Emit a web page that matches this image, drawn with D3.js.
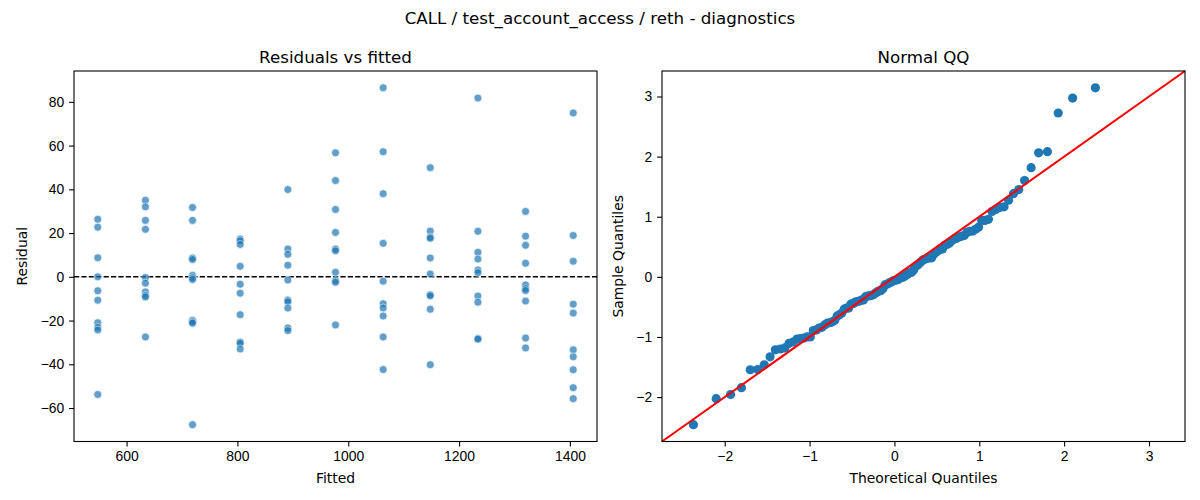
<!DOCTYPE html>
<html>
<head>
<meta charset="utf-8">
<script src="https://cdn.jsdelivr.net/npm/d3@7/dist/d3.min.js"></script>
<style>
    body { margin: 0; background: #fff; }
    svg { display: block; font-family: "DejaVu Sans", sans-serif; }
    .tick text { font-size: 13.9px; fill: #000; }
    .tick line, .domain { stroke: #000; stroke-width: 1.1px; }
</style>
</head>
<body>
<div id="chart"></div>
<script>
(function () {
    'use strict';

    // fitted value of each group (x of each column of points)
    var fitted = [548, 634, 719, 805, 891, 977, 1063, 1148, 1234, 1320, 1406];

    // residuals, one list per fitted value
    var residuals = [
        [26.3, 22.7, 8.7, 0, -6.4, -10.7, -21, -23.1, -24.3, -53.8],
        [35, 32, 25.8, 21.7, -0.3, -2.9, -6.9, -8.5, -9.2, -27.5],
        [31.7, 25.8, 8.6, 7.9, 0.7, -0.4, -1.2, -19.9, -20.6, -21.2, -67.6],
        [17.3, 16.5, 14.8, 4.8, -3.4, -7.5, -17.3, -29.8, -30.4, -33],
        [39.9, 12.7, 10.3, 5.3, -1.5, -10.6, -11.4, -14.3, -23.4, -24.6],
        [56.7, 44, 30.8, 20.3, 12.7, 11.9, 2.1, -1.7, -2.5, -22],
        [86.4, 57.2, 38, 15.3, -2, -12.3, -14.3, -17.9, -27.5, -42.4],
        [49.9, 20.9, 18.2, 17.6, 8.6, 1.3, -8.2, -8.7, -14.8, -40.2],
        [81.7, 20.8, 11.2, 8.1, 3.1, 1.9, -8.8, -11.6, -28.2, -28.5],
        [29.9, 18.6, 14.4, 6.2, -3.7, -5.4, -6.3, -11.1, -28, -32.5],
        [74.9, 18.9, 7.1, -12.5, -16.6, -33.4, -36.6, -42.5, -50.7, -55.7]
    ];

    var fittedTicks = [600, 800, 1000, 1200, 1400],
        residualTicks = [-60, -40, -20, 0, 20, 40, 60, 80],
        qqTicks = [-2, -1, 0, 1, 2, 3];

    var suptitle = "CALL / test_account_access / reth - diagnostics",
        leftTitle = "Residuals vs fitted",
        rightTitle = "Normal QQ";

    var width = 1200,
        height = 500,
        blue = "#1f77b4",
        tickLen = 4.9,
        left = {x0: 74, x1: 597, y0: 71, y1: 441.5},
        right = {x0: 662, x1: 1185, y0: 71, y1: 441.5};

    var svg = d3.select("#chart").append("svg")
        .attr("width", width)
        .attr("height", height);

    // flatten the residual lists into points
    var points = [];
    for (var i = 0; i < fitted.length; i++) {
        for (var j = 0; j < residuals[i].length; j++) {
            points.push({fitted: fitted[i], resid: residuals[i][j]});
        }
    }

    // matplotlib style 5% margins
    function padded(ext) {
        var m = (ext[1] - ext[0]) * 0.05;
        return [ext[0] - m, ext[1] + m];
    }

    // inverse normal cdf (Acklam) for the theoretical quantiles of the QQ plot
    function normInv(p) {
        var a = [-3.969683028665376e+01, 2.209460984245205e+02, -2.759285104469687e+02, 1.383577518672690e+02, -3.066479806614716e+01, 2.506628277459239e+00],
            b = [-5.447609879822406e+01, 1.615858368580409e+02, -1.556989798598866e+02, 6.680131188771972e+01, -1.328068155288572e+01],
            c = [-7.784894002430293e-03, -3.223964580411365e-01, -2.400758277161838e+00, -2.549732539343734e+00, 4.374664141464968e+00, 2.938163982698783e+00],
            d = [7.784695709041462e-03, 3.224671290700398e-01, 2.445134137142996e+00, 3.754408661907416e+00],
            pl = 0.02425, q, r;
        if (p < pl) {
            q = Math.sqrt(-2 * Math.log(p));
            return (((((c[0] * q + c[1]) * q + c[2]) * q + c[3]) * q + c[4]) * q + c[5]) /
                ((((d[0] * q + d[1]) * q + d[2]) * q + d[3]) * q + 1);
        }
        if (p > 1 - pl) {
            q = Math.sqrt(-2 * Math.log(1 - p));
            return -(((((c[0] * q + c[1]) * q + c[2]) * q + c[3]) * q + c[4]) * q + c[5]) /
                ((((d[0] * q + d[1]) * q + d[2]) * q + d[3]) * q + 1);
        }
        q = p - 0.5;
        r = q * q;
        return (((((a[0] * r + a[1]) * r + a[2]) * r + a[3]) * r + a[4]) * r + a[5]) * q /
            (((((b[0] * r + b[1]) * r + b[2]) * r + b[3]) * r + b[4]) * r + 1);
    }

    //suptitle
    svg.append("text")
        .attr("x", width / 2)
        .attr("y", 24)
        .attr("text-anchor", "middle")
        .style("font-size", "16.7px")
        .text(suptitle);

    //---------- residuals vs fitted ----------
    var x = d3.scaleLinear()
        .domain(padded(d3.extent(points, function (d) { return d.fitted; })))
        .range([left.x0, left.x1]);
    var y = d3.scaleLinear()
        .domain(padded(d3.extent(points, function (d) { return d.resid; })))
        .range([left.y1, left.y0]);

    var g1 = svg.append("g");

    g1.append("line")
        .attr("x1", left.x0)
        .attr("x2", left.x1)
        .attr("y1", y(0))
        .attr("y2", y(0))
        .attr("stroke", "#000")
        .attr("stroke-width", 1.4)
        .attr("stroke-dasharray", "5.2,2.2");

    g1.append("g")
        .selectAll("circle")
        .data(points)
        .enter()
        .append("circle")
        .attr("cx", function (d) { return x(d.fitted); })
        .attr("cy", function (d) { return y(d.resid); })
        .attr("r", 4)
        .attr("fill", blue)
        .attr("stroke", "#fff")
        .attr("stroke-width", 0.7)
        .attr("opacity", 0.7);

    drawFrame(g1, left, x, y, fittedTicks, residualTicks, d3.format("d"), d3.format("d"));
    addLabels(g1, left, leftTitle, "Fitted", "Residual", 22);

    //---------- normal QQ ----------
    var std = d3.deviation(points, function (d) { return d.resid; }),
        mean = d3.mean(points, function (d) { return d.resid; }),
        sample = points.map(function (d) { return (d.resid - mean) / std; }).sort(d3.ascending),
        n = sample.length,
        qq = sample.map(function (s, k) {
            return {theo: normInv((k + 1) / (n + 1)), sample: s};
        });

    // both axes share the limits, as the 45 degree line needs
    var xl = padded(d3.extent(qq, function (d) { return d.theo; })),
        yl = padded(d3.extent(qq, function (d) { return d.sample; })),
        lim = [Math.min(xl[0], yl[0]), Math.max(xl[1], yl[1])];

    var qx = d3.scaleLinear().domain(lim).range([right.x0, right.x1]);
    var qy = d3.scaleLinear().domain(lim).range([right.y1, right.y0]);

    var g2 = svg.append("g");

    g2.append("g")
        .selectAll("circle")
        .data(qq)
        .enter()
        .append("circle")
        .attr("cx", function (d) { return qx(d.theo); })
        .attr("cy", function (d) { return qy(d.sample); })
        .attr("r", 4.6)
        .attr("fill", blue);

    g2.append("line")
        .attr("x1", qx(lim[0]))
        .attr("y1", qy(lim[0]))
        .attr("x2", qx(lim[1]))
        .attr("y2", qy(lim[1]))
        .attr("stroke", "red")
        .attr("stroke-width", 2.1);

    drawFrame(g2, right, qx, qy, qqTicks, qqTicks, d3.format("d"), d3.format("d"));
    addLabels(g2, right, rightTitle, "Theoretical Quantiles", "Sample Quantiles", 618);

    function drawFrame(g, box, sx, sy, xt, yt, fx, fy) {
        var minus = function (f) {
            return function (v) { return f(v).replace("-", "\u2212"); };
        };
        g.append("g")
            .attr("transform", "translate(0," + box.y1 + ")")
            .call(d3.axisBottom(sx).tickValues(xt).tickFormat(minus(fx)).tickSize(tickLen).tickPadding(4.9).tickSizeOuter(0))
            .call(function (s) { s.select(".domain").remove(); });
        g.append("g")
            .attr("transform", "translate(" + box.x0 + ",0)")
            .call(d3.axisLeft(sy).tickValues(yt).tickFormat(minus(fy)).tickSize(tickLen).tickPadding(4.9).tickSizeOuter(0))
            .call(function (s) { s.select(".domain").remove(); });
        g.selectAll(".tick text").attr("font-family", null).attr("font-size", null);
        g.append("rect")
            .attr("x", box.x0)
            .attr("y", box.y0)
            .attr("width", box.x1 - box.x0)
            .attr("height", box.y1 - box.y0)
            .attr("fill", "none")
            .attr("stroke", "#000")
            .attr("stroke-width", 1.1);
    }

    function addLabels(g, box, title, xLabel, yLabel, yLabelX) {
        var cx = (box.x0 + box.x1) / 2,
            cy = (box.y0 + box.y1) / 2;
        g.append("text")
            .attr("x", cx)
            .attr("y", 62.5)
            .attr("text-anchor", "middle")
            .style("font-size", "16.7px")
            .text(title);
        g.append("text")
            .attr("x", cx)
            .attr("y", 482.5)
            .attr("text-anchor", "middle")
            .style("font-size", "13.9px")
            .text(xLabel);
        g.append("text")
            .attr("transform", "translate(" + yLabelX + "," + cy + ") rotate(-90)")
            .attr("text-anchor", "middle")
            .attr("dy", "0.35em")
            .style("font-size", "13.9px")
            .text(yLabel);
    }
})();
</script>
</body>
</html>
